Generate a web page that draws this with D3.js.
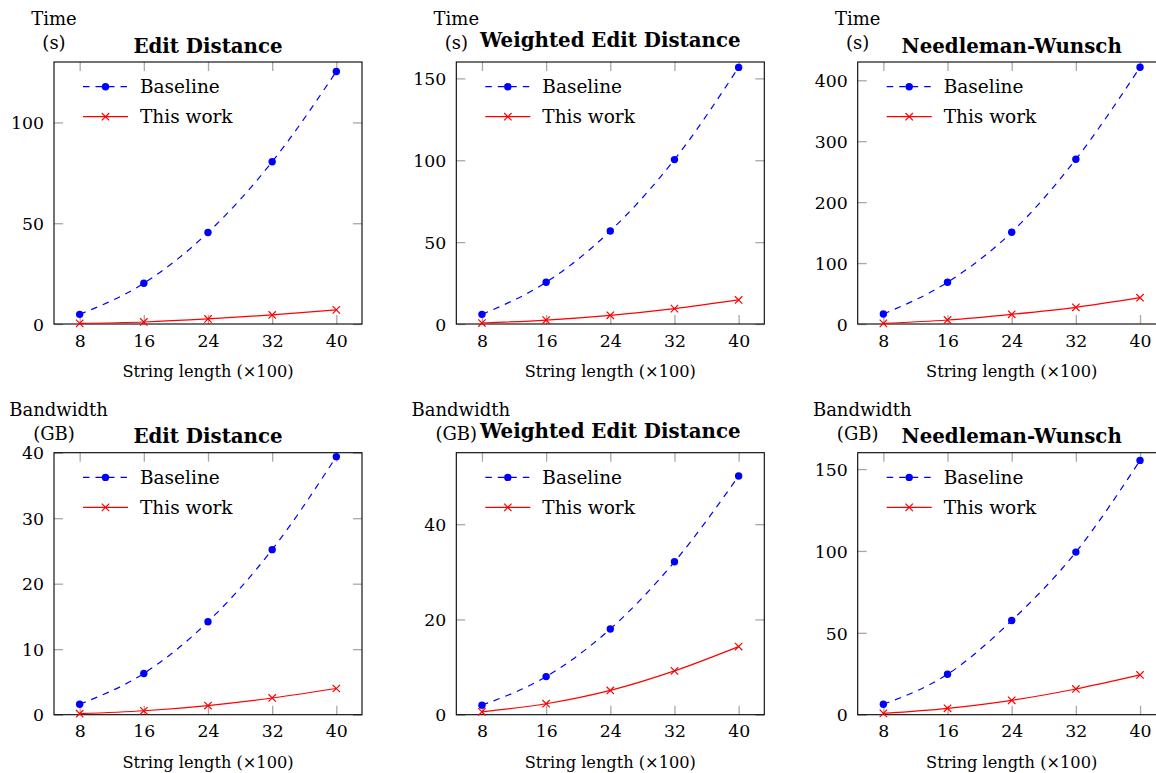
<!DOCTYPE html>
<html>
<head>
<meta charset="utf-8">
<script src="https://cdn.jsdelivr.net/npm/d3@7"></script>
<style>
  body { margin: 0; background: #fff; }
  svg { display: block; font-family: 'DejaVu Serif', serif; }
</style>
</head>
<body>
<svg id="chart" width="1156" height="773"></svg>
<script>
// string length (x100)
const lengths = [8, 16, 24, 32, 40]
const titles = ['Edit Distance', 'Weighted Edit Distance', 'Needleman-Wunsch']
const seriesNames = ['Baseline', 'This work']
const xLabel = 'String length (×100)'

// time (s)
const timeLabel = ['Time', '(s)']
const timeEditBaseline = [4.8, 20.2, 45.4, 80.5, 125.3]
const timeEditOurs = [0.3, 1.0, 2.5, 4.5, 7.0]
const timeWeightedBaseline = [5.9, 25.5, 56.8, 100.4, 156.7]
const timeWeightedOurs = [0.6, 2.4, 5.3, 9.4, 14.7]
const timeNwBaseline = [16.4, 68.5, 150.6, 270.4, 421.3]
const timeNwOurs = [1.0, 6.6, 15.9, 27.4, 43.2]
const timeYMax = [130, 160, 430]
const timeTicks = [[0, 50, 100], [0, 50, 100, 150], [0, 100, 200, 300, 400]]

// bandwidth (GB)
const bwLabel = ['Bandwidth', '(GB)']
const bwEditBaseline = [1.6, 6.3, 14.2, 25.2, 39.4]
const bwEditOurs = [0.15, 0.6, 1.4, 2.55, 4.0]
const bwWeightedBaseline = [2.0, 8.0, 18.0, 32.1, 50.1]
const bwWeightedOurs = [0.6, 2.3, 5.1, 9.2, 14.3]
const bwNwBaseline = [6.4, 24.7, 57.5, 99.3, 155.3]
const bwNwOurs = [0.8, 3.9, 8.8, 15.7, 24.3]
const bwYMax = [40, 55, 160]
const bwTicks = [[0, 10, 20, 30, 40], [0, 20, 40], [0, 50, 100, 150]]

const boxW = 308
const boxH = 262
const colX = [54, 456.3, 857.7]
const rowY = [62, 452.7]
const tickLen = 9
const markR = 3.7
const colors = { base: '#0000ff', ours: '#ff0000', tick: '#a8a8a8', text: '#000' }

const rows = [
  { label: timeLabel, labelShift: 0, ymax: timeYMax, ticks: timeTicks,
    base: [timeEditBaseline, timeWeightedBaseline, timeNwBaseline],
    ours: [timeEditOurs, timeWeightedOurs, timeNwOurs] },
  { label: bwLabel, labelShift: 4.5, ymax: bwYMax, ticks: bwTicks,
    base: [bwEditBaseline, bwWeightedBaseline, bwNwBaseline],
    ours: [bwEditOurs, bwWeightedOurs, bwNwOurs] }
]

const svg = d3.select('#chart')

rows.forEach((row, r) => {
  titles.forEach((title, c) => {
    drawPanel({
      x0: colX[c],
      y0: rowY[r],
      title,
      label: row.label,
      labelShift: row.labelShift,
      ymax: row.ymax[c],
      ticks: row.ticks[c],
      base: row.base[c],
      ours: row.ours[c]
    })
  })
})

function drawPanel (p) {
  const g = svg.append('g').attr('transform', `translate(${p.x0}, ${p.y0})`)
  const x = d3.scaleLinear().domain([4.8, 43.2]).range([0, boxW])
  const y = d3.scaleLinear().domain([0, p.ymax]).range([boxH, 0])

  const styleAxis = sel => {
    sel.select('.domain').remove()
    sel.selectAll('.tick line').attr('stroke', colors.tick).attr('stroke-width', 1.3)
    sel.attr('font-family', null).attr('font-size', null)
    sel.selectAll('.tick text').attr('fill', colors.text).attr('font-size', 17.3)
  }

  g.append('g')
    .call(d3.axisLeft(y).tickValues(p.ticks).tickSize(-tickLen).tickPadding(10).tickFormat(d3.format('d')))
    .call(styleAxis)
    .selectAll('.tick text').attr('dy', '0.36em')

  g.append('g').attr('transform', `translate(${boxW}, 0)`)
    .call(d3.axisRight(y).tickValues(p.ticks).tickSize(-tickLen).tickFormat(''))
    .call(styleAxis)

  g.append('g')
    .call(d3.axisTop(x).tickValues(lengths).tickSize(-tickLen).tickFormat(''))
    .call(styleAxis)

  g.append('g').attr('transform', `translate(0, ${boxH})`)
    .call(d3.axisBottom(x).tickValues(lengths).tickSize(-tickLen).tickPadding(10).tickFormat(d3.format('d')))
    .call(styleAxis)
    .selectAll('.tick text').attr('y', 22.5).attr('dy', null)

  g.append('rect')
    .attr('width', boxW)
    .attr('height', boxH)
    .attr('fill', 'none')
    .attr('stroke', '#000')
    .attr('stroke-width', 1.1)

  // title, raised when it has descenders
  g.append('text')
    .attr('x', boxW / 2)
    .attr('y', /[gjpqy]/.test(p.title) ? -14.8 : -9.3)
    .attr('text-anchor', 'middle')
    .attr('font-weight', 'bold')
    .attr('font-size', 19.8)
    .attr('fill', colors.text)
    .text(p.title)

  // y label, two lines centred on the left edge
  g.selectAll('.ylabel')
    .data(p.label)
    .join('text')
    .attr('class', 'ylabel')
    .attr('x', (d, i) => i === 0 ? p.labelShift : 0)
    .attr('y', (d, i) => i === 0 ? -37 : -13)
    .attr('text-anchor', 'middle')
    .attr('font-size', 18)
    .attr('fill', colors.text)
    .text(d => d)

  g.append('text')
    .attr('x', boxW / 2)
    .attr('y', boxH + 53)
    .attr('text-anchor', 'middle')
    .attr('font-size', 16.2)
    .attr('fill', colors.text)
    .text(xLabel)

  const line = d3.line()
    .x((d, i) => x(lengths[i]))
    .y(d => y(d))
    .curve(d3.curveMonotoneX)

  g.append('path')
    .datum(p.base)
    .attr('d', line)
    .attr('fill', 'none')
    .attr('stroke', colors.base)
    .attr('stroke-width', 1.2)
    .attr('stroke-dasharray', '6.5,6')

  g.selectAll('.base-mark')
    .data(p.base)
    .join('circle')
    .attr('class', 'base-mark')
    .attr('cx', (d, i) => x(lengths[i]))
    .attr('cy', d => y(d))
    .attr('r', markR)
    .attr('fill', colors.base)

  g.append('path')
    .datum(p.ours)
    .attr('d', line)
    .attr('fill', 'none')
    .attr('stroke', colors.ours)
    .attr('stroke-width', 1.2)

  g.selectAll('.ours-mark')
    .data(p.ours)
    .join('path')
    .attr('class', 'ours-mark')
    .attr('transform', (d, i) => `translate(${x(lengths[i])}, ${y(d)})`)
    .attr('d', crossPath(markR))
    .attr('stroke', colors.ours)
    .attr('stroke-width', 1.2)
    .attr('fill', 'none')

  drawLegend(g)
}

function crossPath (s) {
  return `M${-s},${-s}L${s},${s}M${-s},${s}L${s},${-s}`
}

function drawLegend (g) {
  const rowsY = [24.7, 54.7]
  const lineX = [29, 74]
  const midX = (lineX[0] + lineX[1]) / 2

  const base = g.append('g').attr('transform', `translate(0, ${rowsY[0]})`)
  base.append('line')
    .attr('x1', lineX[0]).attr('x2', lineX[1])
    .attr('stroke', colors.base).attr('stroke-width', 1.2)
    .attr('stroke-dasharray', '6.5,6')
  base.append('circle').attr('cx', midX).attr('r', markR).attr('fill', colors.base)

  const ours = g.append('g').attr('transform', `translate(0, ${rowsY[1]})`)
  ours.append('line')
    .attr('x1', lineX[0]).attr('x2', lineX[1])
    .attr('stroke', colors.ours).attr('stroke-width', 1.2)
  ours.append('path')
    .attr('transform', `translate(${midX}, 0)`)
    .attr('d', crossPath(markR))
    .attr('stroke', colors.ours).attr('stroke-width', 1.2).attr('fill', 'none')

  g.selectAll('.legend-text')
    .data(seriesNames)
    .join('text')
    .attr('class', 'legend-text')
    .attr('x', 86)
    .attr('y', (d, i) => rowsY[i])
    .attr('dy', '0.35em')
    .attr('font-size', 18.5)
    .attr('fill', colors.text)
    .text(d => d)
}
</script>
</body>
</html>
